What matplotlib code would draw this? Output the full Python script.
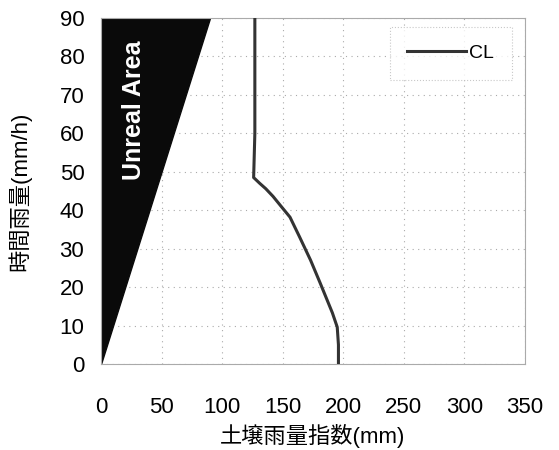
import numpy as np
import matplotlib.pyplot as plt

plt.rcParams['font.family'] = ['Liberation Sans', 'Noto Sans CJK JP', 'DejaVu Sans']

# CL line (soil rainfall index vs hourly rainfall)
cl_x = [127, 127, 126, 131, 136, 142, 150, 156, 164, 173, 181, 191, 195, 196, 196]
cl_y = [90, 60, 48.5, 47, 45.6, 43.6, 40.5, 38.2, 33, 27, 21, 13.3, 9.6, 5, 0]

# unreal area boundary (x = y)
unreal_x = [0, 0, 90]
unreal_y = [0, 90, 90]

x_ticks = [0, 50, 100, 150, 200, 250, 300, 350]
y_ticks = [0, 10, 20, 30, 40, 50, 60, 70, 80, 90]

fig = plt.figure(figsize=(5.59, 4.5), dpi=100)
ax = fig.add_axes([101 / 559, 1 - 364 / 450, 424 / 559, 346 / 450])

ax.fill(unreal_x, unreal_y, color='#0a0a0a', zorder=2)
ax.text(27, 66, 'Unreal Area', rotation=90, color='white', fontsize=18,
        fontweight='bold', ha='center', va='center', zorder=3)

ax.plot(cl_x, cl_y, color='#333333', lw=2.2, label='CL', zorder=4)

ax.set_xlim(0, 350)
ax.set_ylim(0, 90)
ax.set_xticks(x_ticks)
ax.set_yticks(y_ticks)
ax.tick_params(axis='x', length=0, labelsize=16, pad=24)
ax.tick_params(axis='y', length=0, labelsize=16, pad=12)
ax.grid(True, color='#aaaaaa', linestyle=(0, (1, 4)), lw=0.8)
for s in ax.spines.values():
    s.set_color('#aaaaaa')
    s.set_linewidth(0.8)

ax.set_xlabel('土壌雨量指数(mm)', fontsize=16, labelpad=4)
ax.set_ylabel('時間雨量(mm/h)', fontsize=16, labelpad=20)

leg = ax.legend(loc='upper right', bbox_to_anchor=(0.969, 0.974), fontsize=14,
                frameon=True, fancybox=False, handlelength=3.0, borderpad=0.9,
                handletextpad=0.2, borderaxespad=0)
leg.get_frame().set_edgecolor('#bbbbbb')
leg.get_frame().set_linestyle(':')
leg.get_frame().set_linewidth(0.8)

fig.savefig('out.png', dpi=100)
